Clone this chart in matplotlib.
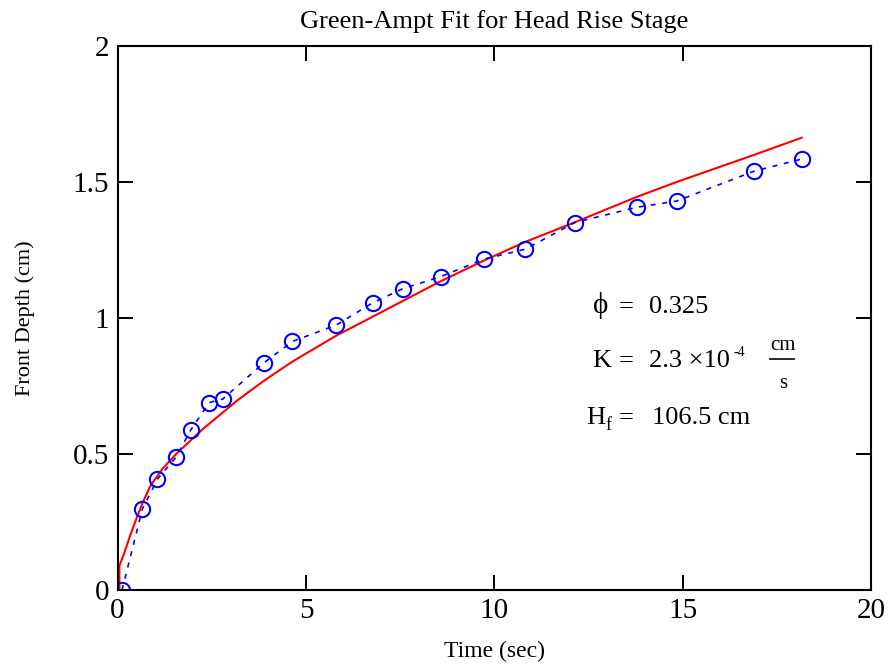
import matplotlib
matplotlib.use("Agg")
import matplotlib.pyplot as plt

# measured front depth (blue circles)
t_meas = [0.12, 0.66, 1.06, 1.55, 1.95, 2.43, 2.79, 3.89, 4.64, 5.80,
          6.77, 7.57, 8.57, 9.73, 10.82, 12.13, 13.77, 14.83, 16.89, 18.16]
d_meas = [0.0, 0.298, 0.408, 0.488, 0.59, 0.689, 0.702, 0.836, 0.914, 0.974,
          1.056, 1.108, 1.152, 1.217, 1.253, 1.351, 1.407, 1.43, 1.54, 1.585]

# Green-Ampt fit (red line)
t_fit = [0.05, 0.05, 0.15, 0.33, 0.51, 0.68, 0.86, 1.2, 1.57, 2.28, 3.16, 3.89,
         4.64, 5.80, 6.77, 7.57, 8.57, 9.73, 10.82, 12.13, 13.77, 14.83, 16.89, 18.15]
d_fit = [0.0, 0.09, 0.125, 0.198, 0.266, 0.325, 0.38, 0.447, 0.502, 0.594, 0.695, 0.77,
         0.84, 0.935, 1.005, 1.063, 1.135, 1.212, 1.28, 1.352, 1.445, 1.50, 1.60, 1.663]

plt.rcParams["font.family"] = ["Liberation Serif", "DejaVu Serif"]

fig = plt.figure(figsize=(8.95, 6.64), dpi=100)
ax = fig.add_axes([0.1313, 0.1114, 0.8424, 0.8193])

ax.plot(t_fit, d_fit, color="red", lw=1.5)
ln, = ax.plot(t_meas, d_meas, color="blue", lw=1.2, marker="o", ms=11,
              mfc="none", mec="blue", mew=1.5)
ln.set_dashes((3, 4))

ax.set_xlim(0, 20)
ax.set_ylim(0, 2)
ax.set_xticks([0, 5, 10, 15, 20])
ax.set_yticks([0, 0.5, 1, 1.5, 2])
ax.set_yticklabels(["0", "0.5", "1", "1.5", "2"])
ax.tick_params(direction="in", length=11, width=1.4, labelsize=21, pad=6,
               top=True, right=True)
for s in ax.spines.values():
    s.set_linewidth(1.5)

ax.set_title("Green-Ampt Fit for Head Rise Stage", fontsize=19, pad=13)
ax.set_xlabel("Time (sec)", fontsize=17, labelpad=12)
ax.set_ylabel("Front Depth (cm)", fontsize=16, labelpad=27)

# parameter annotations
fs = 19
ax.text(12.6, 1.018, "ϕ", fontsize=21, va="baseline")
ax.text(13.3, 1.018, "=", fontsize=fs, va="baseline")
ax.text(14.1, 1.018, "0.325", fontsize=fs, va="baseline")

ax.text(12.6, 0.82, "K", fontsize=fs, va="baseline")
ax.text(13.3, 0.82, "=", fontsize=fs, va="baseline")
ax.text(14.1, 0.82, "2.3 ×10", fontsize=fs, va="baseline")
ax.text(16.33, 0.862, "-4", fontsize=10, va="baseline")
ax.text(17.65, 0.882, "cm", fontsize=15, va="baseline", ha="center")
ax.plot([17.3, 17.95], [0.849, 0.849], color="black", lw=1.2)
ax.text(17.65, 0.743, "s", fontsize=15, va="baseline", ha="center")

ax.text(12.43, 0.611, "H", fontsize=fs, va="baseline")
ax.text(12.93, 0.59, "f", fontsize=13, va="baseline")
ax.text(13.28, 0.611, "=", fontsize=fs, va="baseline")
ax.text(14.18, 0.611, "106.5 cm", fontsize=fs, va="baseline")

fig.savefig("out.png", dpi=100)
